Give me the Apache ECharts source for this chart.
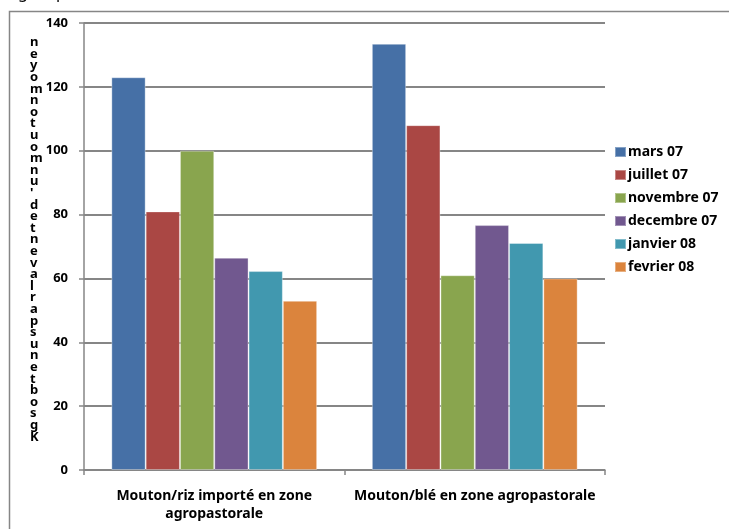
<!DOCTYPE html>
<html><head><meta charset="utf-8">
<script src="https://cdn.jsdelivr.net/npm/echarts@6/dist/echarts.min.js"></script>
<style>html,body{margin:0;padding:0;background:#fff}#c{width:729px;height:529px}</style>
</head><body><div id="c"></div>
<script>
const categories = ["Mouton/riz importé en zone\nagropastorale", "Mouton/blé en zone agropastorale"];
const seriesNames = ["mars 07", "juillet 07", "novembre 07", "decembre 07", "janvier 08", "fevrier 08"];
const mars07 = [123, 133.5];
const juillet07 = [81, 108];
const novembre07 = [100, 61];
const decembre07 = [66.5, 76.7];
const janvier08 = [62.3, 71.1];
const fevrier08 = [53, 60];
const yTicks = [0, 20, 40, 60, 80, 100, 120, 140];
const yTitle = "Kgs obtenus par la vente d'un mouton moyen";
const colors = ["#4670A6", "#AA4744", "#89A54E", "#71588F", "#4198AF", "#DB843D"];

const values = [mars07, juillet07, novembre07, decembre07, janvier08, fevrier08];
const font = "'Noto Sans', 'DejaVu Sans', sans-serif";
const stacked = yTitle.replace(/ /g, '').split('').reverse().join('\n');

const chart = echarts.init(document.getElementById('c'), null, {renderer: 'canvas'});
chart.setOption({
  animation: false,
  color: colors,
  textStyle: {fontFamily: font},
  grid: {left: 84, right: 124, top: 23, bottom: 59, containLabel: false},
  legend: {
    orient: 'vertical', left: 609, top: 140, padding: 5,
    itemWidth: 11, itemHeight: 10, itemGap: 9,
    icon: 'rect',
    textStyle: {fontFamily: font, fontWeight: 'bold', fontSize: 14, lineHeight: 14, color: '#000', padding: [0,0,0,-3]},
    data: seriesNames
  },
  xAxis: {
    type: 'category', data: categories,
    axisLine: {lineStyle: {color: '#868686', width: 1.5}},
    axisTick: {show: true, length: 5, lineStyle: {color: '#868686', width: 1.5}},
    axisLabel: {fontFamily: font, fontWeight: 'bold', fontSize: 14, color: '#000', margin: 17, lineHeight: 18, interval: 0}
  },
  yAxis: {
    type: 'value', min: yTicks[0], max: yTicks[yTicks.length-1], interval: 20,
    axisLine: {show: true, lineStyle: {color: '#868686', width: 1.5}},
    axisTick: {show: true, length: 5, lineStyle: {color: '#868686', width: 1.5}},
    splitLine: {lineStyle: {color: '#868686', width: 2}},
    axisLabel: {fontFamily: font, fontWeight: 'bold', fontSize: 13, color: '#000', margin: 16}
  },
  graphic: [
    {type: 'rect', shape: {x: 9.5, y: 11.5, width: 740, height: 540}, style: {fill: 'none', stroke: '#868686', lineWidth: 1.5}, silent: true},
    {type: 'text', left: 30, top: 36, style: {text: stacked, font: "bold 13px " + font, lineHeight: 11.6, fill: '#000', align: 'center'}},
    {type: 'text', left: 18, top: -15, style: {text: 'g', font: "16px " + font, fill: '#000'}},
    {type: 'text', left: 56, top: -15, style: {text: 'p', font: "16px " + font, fill: '#000'}}
  ],
  series: seriesNames.map((n, i) => ({
    name: n, type: 'bar', data: values[i],
    barGap: '0%', barCategoryGap: '21%',
    itemStyle: {borderColor: 'rgba(255,255,255,0.35)', borderWidth: 1}
  }))
});
</script></body></html>
